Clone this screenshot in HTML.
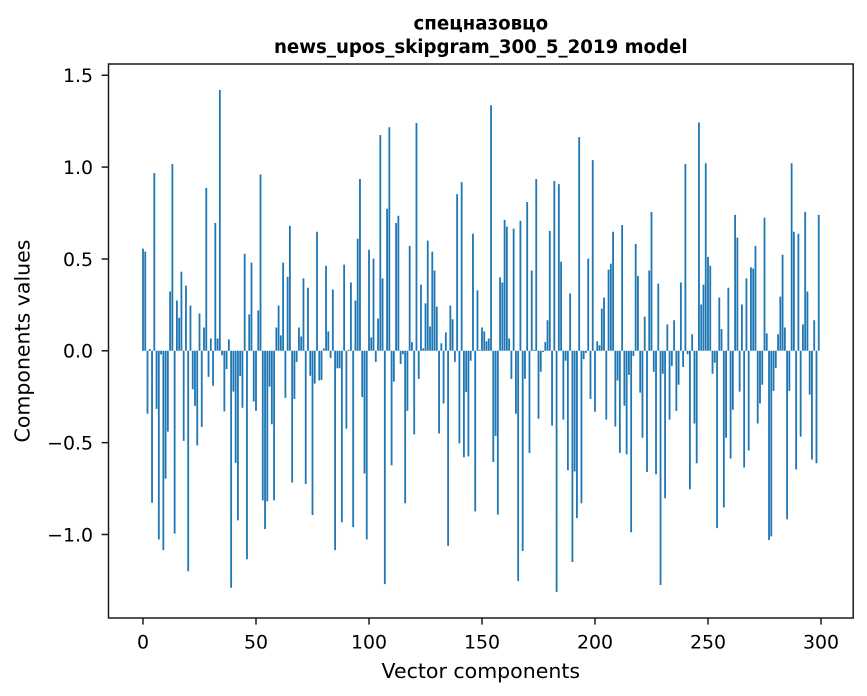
<!DOCTYPE html>
<html>
<head>
<meta charset="utf-8">
<style>
  html, body { margin:0; padding:0; background:#ffffff; }
  body { width:867px; height:696px; overflow:hidden; }
  svg { display:block; }
  text { font-family: "DejaVu Sans", "Liberation Sans", sans-serif; fill:#000; }
</style>
</head>
<body>
<svg width="867" height="696" viewBox="0 0 867 696" xmlns="http://www.w3.org/2000/svg">
  <rect x="0" y="0" width="867" height="696" fill="#ffffff"/>

  <!-- Title -->
  <text x="480.8" y="29.5" text-anchor="middle" font-size="18.2" font-weight="bold">спецназовцо</text>
  <text x="480.8" y="53" text-anchor="middle" font-size="18.2" font-weight="bold">news_upos_skipgram_300_5_2019 model</text>

  <!-- Bars (data coords: x = component index, y = value) -->
  <defs>
    <clipPath id="ax"><rect x="108.2" y="64" width="745.3" height="554"/></clipPath>
  </defs>
  <g clip-path="url(#ax)">
  <path transform="translate(143,350.8) scale(2.26,-183.7)" fill="#1f77b4" d="M-.4 0h.8V.556h-.8z
m1 0h.8V.54h-.8zm1 0h.8V-.343h-.8zm1 0h.8V.01h-.8zm1 0h.8V-.827h-.8zm1 0h.8V.967h-.8zm1 0h.8V-.316h-.8zm1 0h.8V-1.027h-.8zm1 0h.8V-.02h-.8zm1 0h.8V-1.085h-.8z
m1 0h.8V-.696h-.8zm1 0h.8V-.44h-.8zm1 0h.8V.323h-.8zm1 0h.8V1.016h-.8zm1 0h.8V-.995h-.8zm1 0h.8V.274h-.8zm1 0h.8V.18h-.8zm1 0h.8V.43h-.8zm1 0h.8V-.49h-.8zm1 0h.8V.355h-.8z
m1 0h.8V-1.2h-.8zm1 0h.8V.246h-.8zm1 0h.8V-.209h-.8zm1 0h.8V-.3h-.8zm1 0h.8V-.515h-.8zm1 0h.8V.203h-.8zm1 0h.8V-.414h-.8zm1 0h.8V.127h-.8zm1 0h.8V.887h-.8zm1 0h.8V-.142h-.8z
m1 0h.8V.067h-.8zm1 0h.8V-.19h-.8zm1 0h.8V.696h-.8zm1 0h.8V.067h-.8zm1 0h.8V1.42h-.8zm1 0h.8V-.024h-.8zm1 0h.8V-.33h-.8zm1 0h.8V-.1h-.8zm1 0h.8V.062h-.8zm1 0h.8V-1.29h-.8z
m1 0h.8V-.222h-.8zm1 0h.8V-.61h-.8zm1 0h.8V-.923h-.8zm1 0h.8V-.138h-.8zm1 0h.8V-.31h-.8zm1 0h.8V.528h-.8zm1 0h.8V-1.135h-.8zm1 0h.8V.198h-.8zm1 0h.8V.48h-.8zm1 0h.8V-.276h-.8z
m1 0h.8V-.327h-.8zm1 0h.8V.22h-.8zm1 0h.8V.96h-.8zm1 0h.8V-.814h-.8zm1 0h.8V-.97h-.8zm1 0h.8V-.82h-.8zm1 0h.8V-.196h-.8zm1 0h.8V-.4h-.8zm1 0h.8V-.814h-.8zm1 0h.8V.127h-.8z
m1 0h.8V.246h-.8zm1 0h.8V.084h-.8zm1 0h.8V.48h-.8zm1 0h.8V-.256h-.8zm1 0h.8V.403h-.8zm1 0h.8V.68h-.8zm1 0h.8V-.717h-.8zm1 0h.8V-.262h-.8zm1 0h.8V-.06h-.8zm1 0h.8V.127h-.8z
m1 0h.8V.078h-.8zm1 0h.8V.394h-.8zm1 0h.8V-.726h-.8zm1 0h.8V.343h-.8zm1 0h.8V-.136h-.8zm1 0h.8V-.894h-.8zm1 0h.8V-.179h-.8zm1 0h.8V.648h-.8zm1 0h.8V-.162h-.8zm1 0h.8V-.159h-.8z
m1 0h.8V.013h-.8zm1 0h.8V.463h-.8zm1 0h.8V.106h-.8zm1 0h.8V-.04h-.8zm1 0h.8V.334h-.8zm1 0h.8V-1.085h-.8zm1 0h.8V-.095h-.8zm1 0h.8V-.095h-.8zm1 0h.8V-.933h-.8zm1 0h.8V.469h-.8z
m1 0h.8V-.424h-.8zm1 0h.8V.006h-.8zm1 0h.8V.372h-.8zm1 0h.8V-.96h-.8zm1 0h.8V.274h-.8zm1 0h.8V.61h-.8zm1 0h.8V.935h-.8zm1 0h.8V-.252h-.8zm1 0h.8V-.668h-.8zm1 0h.8V-1.027h-.8z
m1 0h.8V.55h-.8zm1 0h.8V.073h-.8zm1 0h.8V.502h-.8zm1 0h.8V-.06h-.8zm1 0h.8V.175h-.8zm1 0h.8V1.174h-.8zm1 0h.8V.394h-.8zm1 0h.8V-1.27h-.8zm1 0h.8V.773h-.8zm1 0h.8V1.217h-.8z
m1 0h.8V-.623h-.8zm1 0h.8V-.168h-.8zm1 0h.8V.696h-.8zm1 0h.8V.735h-.8zm1 0h.8V-.071h-.8zm1 0h.8V-.019h-.8zm1 0h.8V-.83h-.8zm1 0h.8V-.327h-.8zm1 0h.8V.571h-.8zm1 0h.8V.047h-.8z
m1 0h.8V-.455h-.8zm1 0h.8V1.24h-.8zm1 0h.8V-.153h-.8zm1 0h.8V.36h-.8zm1 0h.8V.013h-.8zm1 0h.8V.258h-.8zm1 0h.8V.6h-.8zm1 0h.8V.133h-.8zm1 0h.8V.54h-.8zm1 0h.8V.437h-.8z
m1 0h.8V.24h-.8zm1 0h.8V-.45h-.8zm1 0h.8V.041h-.8zm1 0h.8V-.287h-.8zm1 0h.8V.1h-.8zm1 0h.8V-1.062h-.8zm1 0h.8V.246h-.8zm1 0h.8V.172h-.8zm1 0h.8V-.06h-.8zm1 0h.8V.853h-.8z
m1 0h.8V-.504h-.8zm1 0h.8V.918h-.8zm1 0h.8V-.58h-.8zm1 0h.8V-.224h-.8zm1 0h.8V-.575h-.8zm1 0h.8V-.054h-.8zm1 0h.8V.637h-.8zm1 0h.8V-.874h-.8zm1 0h.8V.329h-.8zm1 0h.8V.005h-.8z
m1 0h.8V.127h-.8zm1 0h.8V.106h-.8zm1 0h.8V.052h-.8zm1 0h.8V.067h-.8zm1 0h.8V1.337h-.8zm1 0h.8V-.605h-.8zm1 0h.8V-.463h-.8zm1 0h.8V-.892h-.8zm1 0h.8V.4h-.8zm1 0h.8V.372h-.8z
m1 0h.8V.713h-.8zm1 0h.8V.676h-.8zm1 0h.8V.067h-.8zm1 0h.8V-.153h-.8zm1 0h.8V.665h-.8zm1 0h.8V-.343h-.8zm1 0h.8V-1.253h-.8zm1 0h.8V.708h-.8zm1 0h.8V-1.09h-.8zm1 0h.8V-.153h-.8z
m1 0h.8V.81h-.8zm1 0h.8V-.556h-.8zm1 0h.8V.437h-.8zm1 0h.8V.006h-.8zm1 0h.8V.935h-.8zm1 0h.8V-.37h-.8zm1 0h.8V-.114h-.8zm1 0h.8V-.007h-.8zm1 0h.8V.047h-.8zm1 0h.8V.166h-.8z
m1 0h.8V.653h-.8zm1 0h.8V-.407h-.8zm1 0h.8V.924h-.8zm1 0h.8V-1.312h-.8zm1 0h.8V.907h-.8zm1 0h.8V.485h-.8zm1 0h.8V-.375h-.8zm1 0h.8V-.054h-.8zm1 0h.8V-.651h-.8zm1 0h.8V.312h-.8z
m1 0h.8V-1.15h-.8zm1 0h.8V-.657h-.8zm1 0h.8V-.911h-.8zm1 0h.8V1.163h-.8zm1 0h.8V-.83h-.8zm1 0h.8V-.045h-.8zm1 0h.8V-.011h-.8zm1 0h.8V.502h-.8zm1 0h.8V-.262h-.8zm1 0h.8V1.038h-.8z
m1 0h.8V-.332h-.8zm1 0h.8V.052h-.8zm1 0h.8V.03h-.8zm1 0h.8V.23h-.8zm1 0h.8V.29h-.8zm1 0h.8V-.375h-.8zm1 0h.8V.442h-.8zm1 0h.8V.474h-.8zm1 0h.8V.648h-.8zm1 0h.8V-.412h-.8z
m1 0h.8V-.162h-.8zm1 0h.8V-.556h-.8zm1 0h.8V.685h-.8zm1 0h.8V-.299h-.8zm1 0h.8V-.564h-.8zm1 0h.8V-.131h-.8zm1 0h.8V-.988h-.8zm1 0h.8V-.028h-.8zm1 0h.8V.582h-.8zm1 0h.8V.408h-.8z
m1 0h.8V-.228h-.8zm1 0h.8V-.473h-.8zm1 0h.8V.186h-.8zm1 0h.8V-.66h-.8zm1 0h.8V.437h-.8zm1 0h.8V.756h-.8zm1 0h.8V-.114h-.8zm1 0h.8V-.672h-.8zm1 0h.8V.366h-.8zm1 0h.8V-1.275h-.8z
m1 0h.8V-.125h-.8zm1 0h.8V-.803h-.8zm1 0h.8V.144h-.8zm1 0h.8V-.375h-.8zm1 0h.8V-.082h-.8zm1 0h.8V.166h-.8zm1 0h.8V-.327h-.8zm1 0h.8V-.185h-.8zm1 0h.8V.372h-.8zm1 0h.8V-.088h-.8z
m1 0h.8V1.017h-.8zm1 0h.8V-.019h-.8zm1 0h.8V-.754h-.8zm1 0h.8V.09h-.8zm1 0h.8V-.396h-.8zm1 0h.8V-.612h-.8zm1 0h.8V1.243h-.8zm1 0h.8V.252h-.8zm1 0h.8V.36h-.8zm1 0h.8V1.021h-.8z
m1 0h.8V.511h-.8zm1 0h.8V.463h-.8zm1 0h.8V-.125h-.8zm1 0h.8V-.065h-.8zm1 0h.8V-.965h-.8zm1 0h.8V.29h-.8zm1 0h.8V.118h-.8zm1 0h.8V-.853h-.8zm1 0h.8V-.473h-.8zm1 0h.8V.343h-.8z
m1 0h.8V-.586h-.8zm1 0h.8V-.321h-.8zm1 0h.8V.74h-.8zm1 0h.8V.616h-.8zm1 0h.8V-.222h-.8zm1 0h.8V.252h-.8zm1 0h.8V-.635h-.8zm1 0h.8V.394h-.8zm1 0h.8V-.543h-.8zm1 0h.8V.454h-.8z
m1 0h.8V.448h-.8zm1 0h.8V.571h-.8zm1 0h.8V-.396h-.8zm1 0h.8V-.287h-.8zm1 0h.8V-.185h-.8zm1 0h.8V.724h-.8zm1 0h.8V.095h-.8zm1 0h.8V-1.03h-.8zm1 0h.8V-1.01h-.8zm1 0h.8V-.218h-.8z
m1 0h.8V-.093h-.8zm1 0h.8V.09h-.8zm1 0h.8V.295h-.8zm1 0h.8V.523h-.8zm1 0h.8V.127h-.8zm1 0h.8V-.917h-.8zm1 0h.8V-.218h-.8zm1 0h.8V1.021h-.8zm1 0h.8V.648h-.8zm1 0h.8V-.646h-.8z
m1 0h.8V.637h-.8zm1 0h.8V-.467h-.8zm1 0h.8V.144h-.8zm1 0h.8V.756h-.8zm1 0h.8V.323h-.8zm1 0h.8V-.239h-.8zm1 0h.8V-.592h-.8zm1 0h.8V.166h-.8zm1 0h.8V-.612h-.8zm1 0h.8V.74h-.8z"/>
  </g>

  <!-- Axes frame -->
  <rect x="108.5" y="64" width="744.7" height="554" fill="none" stroke="#1a1a1a" stroke-width="1.5"/>

  <!-- Y ticks -->
  <g stroke="#1a1a1a" stroke-width="1.5">
    <line x1="101.6" y1="75.25" x2="108.5" y2="75.25"/>
    <line x1="101.6" y1="167.1" x2="108.5" y2="167.1"/>
    <line x1="101.6" y1="259" x2="108.5" y2="259"/>
    <line x1="101.6" y1="350.8" x2="108.5" y2="350.8"/>
    <line x1="101.6" y1="442.65" x2="108.5" y2="442.65"/>
    <line x1="101.6" y1="534.5" x2="108.5" y2="534.5"/>
  </g>
  <g font-size="18.9" text-anchor="end">
    <text x="93" y="82">1.5</text>
    <text x="93" y="173.9">1.0</text>
    <text x="93" y="265.8">0.5</text>
    <text x="93" y="357.6">0.0</text>
    <text x="93" y="449.4">−0.5</text>
    <text x="93" y="541.3">−1.0</text>
  </g>

  <!-- X ticks -->
  <g stroke="#1a1a1a" stroke-width="1.5">
    <line x1="143" y1="618" x2="143" y2="624.6"/>
    <line x1="256" y1="618" x2="256" y2="624.6"/>
    <line x1="369" y1="618" x2="369" y2="624.6"/>
    <line x1="482" y1="618" x2="482" y2="624.6"/>
    <line x1="595" y1="618" x2="595" y2="624.6"/>
    <line x1="708" y1="618" x2="708" y2="624.6"/>
    <line x1="821" y1="618" x2="821" y2="624.6"/>
  </g>
  <g font-size="18.9" text-anchor="middle">
    <text x="143" y="648.5">0</text>
    <text x="256" y="648.5">50</text>
    <text x="369" y="648.5">100</text>
    <text x="482" y="648.5">150</text>
    <text x="595" y="648.5">200</text>
    <text x="708" y="648.5">250</text>
    <text x="821" y="648.5">300</text>
  </g>

  <!-- Axis labels -->
  <text x="480.8" y="678" text-anchor="middle" font-size="20.5">Vector components</text>
  <text transform="translate(29.5,341) rotate(-90)" x="0" y="0" text-anchor="middle" font-size="20.5">Components values</text>
</svg>
</body>
</html>
